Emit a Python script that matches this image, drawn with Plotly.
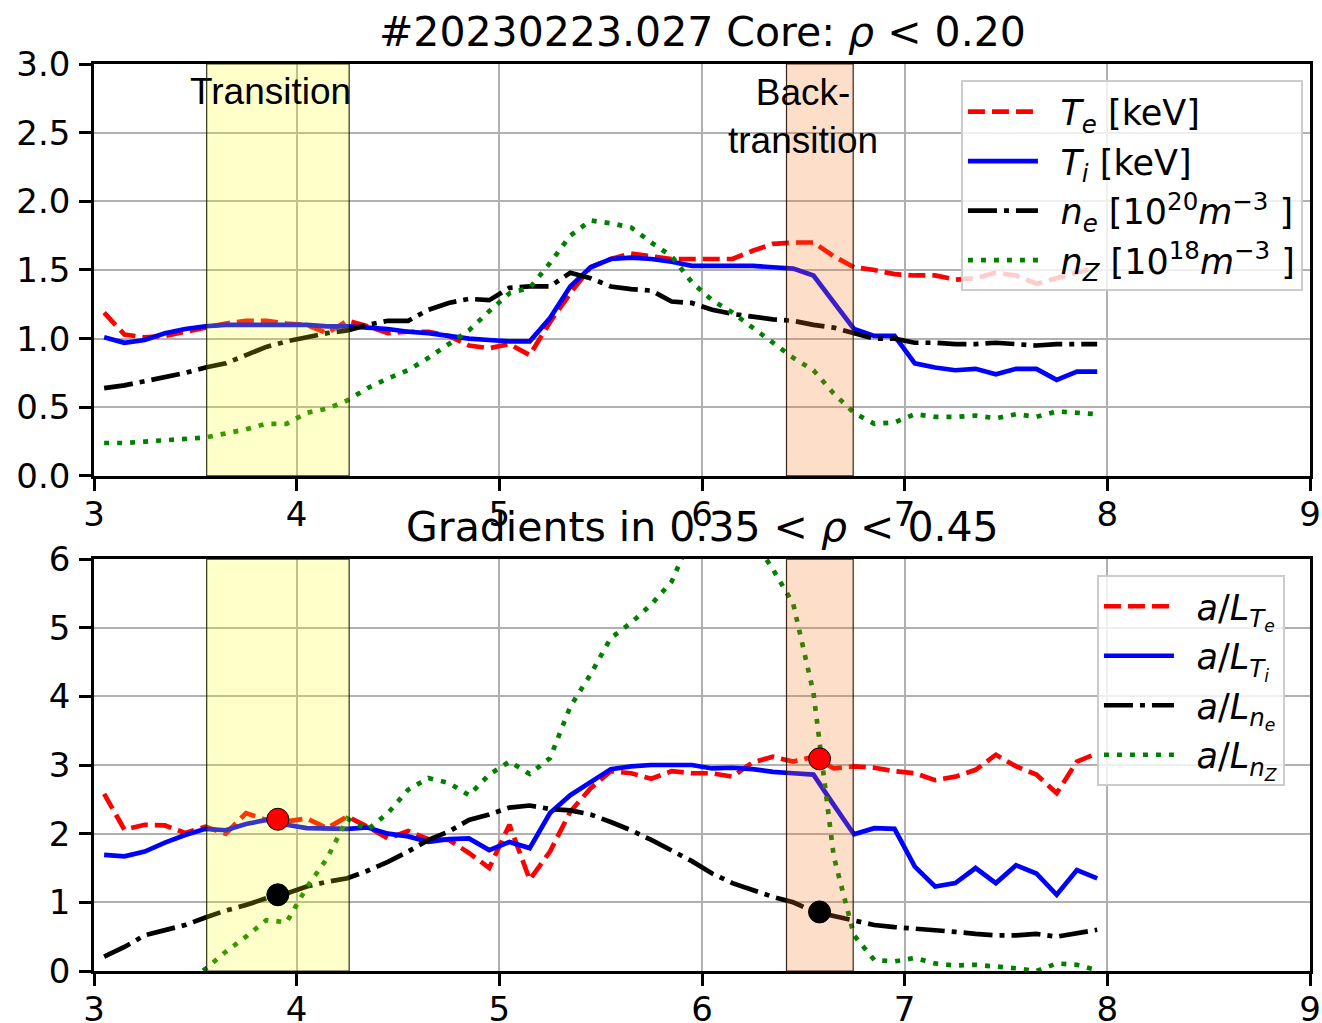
import plotly.graph_objects as go

# time axis [s]
t = [3.05, 3.15, 3.25, 3.35, 3.45, 3.55, 3.65, 3.75, 3.85, 3.95,
     4.05, 4.15, 4.25, 4.35, 4.45, 4.55, 4.65, 4.75, 4.85, 4.95,
     5.05, 5.15, 5.25, 5.35, 5.45, 5.55, 5.65, 5.75, 5.85, 5.95,
     6.05, 6.15, 6.25, 6.35, 6.45, 6.55, 6.65, 6.75, 6.85, 6.95,
     7.05, 7.15, 7.25, 7.35, 7.45, 7.55, 7.65, 7.75, 7.85, 7.95]

# core values (rho < 0.20)
te_core = [1.19, 1.03, 1.01, 1.02, 1.05, 1.08, 1.11, 1.13, 1.13, 1.11,
           1.10, 1.04, 1.13, 1.09, 1.04, 1.05, 1.05, 1.02, 0.95, 0.93,
           0.96, 0.88, 1.12, 1.33, 1.52, 1.58, 1.62, 1.60, 1.58, 1.58,
           1.58, 1.58, 1.64, 1.69, 1.70, 1.70, 1.60, 1.52, 1.50, 1.47,
           1.46, 1.46, 1.43, 1.44, 1.48, 1.46, 1.40, 1.44, 1.48, 1.52]
ti_core = [1.01, 0.97, 0.99, 1.04, 1.07, 1.09, 1.10, 1.10, 1.10, 1.10,
           1.10, 1.09, 1.09, 1.08, 1.07, 1.05, 1.04, 1.02, 1.00, 0.99,
           0.98, 0.98, 1.15, 1.38, 1.52, 1.58, 1.59, 1.58, 1.56, 1.53,
           1.53, 1.53, 1.53, 1.52, 1.51, 1.46, 1.26, 1.07, 1.02, 1.02,
           0.82, 0.79, 0.77, 0.78, 0.74, 0.78, 0.78, 0.70, 0.76, 0.76]
ne_core = [0.64, 0.66, 0.69, 0.72, 0.75, 0.79, 0.82, 0.88, 0.94, 0.98,
           1.01, 1.04, 1.06, 1.10, 1.13, 1.13, 1.21, 1.26, 1.29, 1.28,
           1.37, 1.38, 1.38, 1.48, 1.44, 1.38, 1.36, 1.35, 1.27, 1.26,
           1.21, 1.18, 1.16, 1.14, 1.13, 1.10, 1.08, 1.04, 1.00, 1.00,
           0.97, 0.97, 0.96, 0.96, 0.97, 0.96, 0.95, 0.96, 0.96, 0.96]
nz_core = [0.24, 0.24, 0.25, 0.26, 0.27, 0.28, 0.31, 0.34, 0.38, 0.38,
           0.46, 0.49, 0.55, 0.64, 0.71, 0.77, 0.86, 0.96, 1.06, 1.20,
           1.33, 1.37, 1.55, 1.75, 1.86, 1.84, 1.81, 1.70, 1.60, 1.41,
           1.28, 1.19, 1.08, 0.96, 0.86, 0.77, 0.60, 0.46, 0.38, 0.39,
           0.45, 0.43, 0.43, 0.44, 0.42, 0.45, 0.43, 0.47, 0.46, 0.45]

# normalised gradients (0.35 < rho < 0.45)
alte = [2.58, 2.06, 2.13, 2.12, 2.01, 2.10, 2.00, 2.30, 2.20, 2.18,
        2.22, 2.08, 2.25, 2.10, 1.93, 2.04, 1.92, 1.91, 1.72, 1.50,
        2.13, 1.33, 1.74, 2.32, 2.66, 2.91, 2.88, 2.80, 2.91, 2.88,
        2.88, 2.83, 3.04, 3.12, 3.05, 3.12, 2.95, 2.98, 2.96, 2.91,
        2.88, 2.78, 2.83, 2.93, 3.15, 2.98, 2.86, 2.59, 3.05, 3.17]
alti = [1.69, 1.67, 1.74, 1.87, 1.98, 2.07, 2.05, 2.14, 2.20, 2.13,
        2.08, 2.07, 2.07, 2.09, 2.00, 1.96, 1.88, 1.92, 1.93, 1.76,
        1.88, 1.79, 2.30, 2.56, 2.74, 2.94, 2.98, 3.00, 3.00, 3.00,
        2.95, 2.96, 2.94, 2.90, 2.88, 2.86, 2.42, 1.99, 2.08, 2.07,
        1.52, 1.23, 1.28, 1.50, 1.28, 1.54, 1.42, 1.11, 1.47, 1.35]
alne = [0.21, 0.35, 0.52, 0.60, 0.67, 0.78, 0.88, 0.96, 1.06, 1.13,
        1.23, 1.30, 1.35, 1.46, 1.59, 1.74, 1.91, 2.03, 2.20, 2.28,
        2.38, 2.41, 2.36, 2.34, 2.28, 2.17, 2.05, 1.91, 1.76, 1.60,
        1.42, 1.28, 1.18, 1.08, 1.00, 0.87, 0.80, 0.74, 0.67, 0.64,
        0.62, 0.59, 0.57, 0.54, 0.52, 0.52, 0.54, 0.50, 0.55, 0.60]
alnz = [-0.90, -0.70, -0.50, -0.35, -0.18, 0.03, 0.28, 0.50, 0.74, 0.71,
        1.22, 1.64, 2.22, 2.06, 2.30, 2.64, 2.81, 2.74, 2.56, 2.86,
        3.05, 2.87, 3.10, 3.85, 4.32, 4.85, 5.07, 5.34, 5.67, 6.35,
        6.80, 6.90, 6.30, 5.85, 5.35, 4.05, 1.67, 0.52, 0.16, 0.14,
        0.19, 0.11, 0.08, 0.09, 0.07, 0.04, 0.00, 0.11, 0.09, 0.01]

# transition windows [s]
trans_win = [3.556, 4.259]
back_win = [6.417, 6.746]

# gradient values at the window centres
mark_t = [3.907, 6.58]
mark_alte = [2.21, 3.09]
mark_alne = [1.11, 0.86]

# axis limits
t_range = [3, 9]
core_range = [0, 3]
grad_range = [0, 6]

RED, BLUE, BLACK, GREEN = "#ff0000", "#0000ff", "#000000", "#008000"
LW = 4.7
DASH = "17px,7px"
DASHDOT = "29px,7px,5px,7px"
DOT = "5px,8px"
GAP = "\u2002"

fig = go.Figure()

top = [
    (te_core, "<i>T</i><sub><i>e</i></sub> [keV]", RED, DASH),
    (ti_core, "<i>T</i><sub><i>i</i></sub> [keV]", BLUE, "solid"),
    (ne_core, "<i>n</i><sub><i>e</i></sub> [10<sup>20</sup><i>m</i><sup>−3</sup> ]", BLACK, DASHDOT),
    (nz_core, "<i>n</i><sub><i>Z</i></sub> [10<sup>18</sup><i>m</i><sup>−3</sup> ]", GREEN, DOT),
]
for i, (vals, name, col, dash) in enumerate(top):
    fig.add_trace(go.Scatter(
        x=t, y=vals, name=GAP + name, mode="lines",
        line=dict(color=col, width=LW, dash=dash),
        xaxis="x", yaxis="y", legend="legend", legendgroup=f"a{i}"))

bottom = [
    (alte, "<i>a</i>/<i>L</i><sub><i>T<sub>e</sub></i></sub>", RED, DASH),
    (alti, "<i>a</i>/<i>L</i><sub><i>T<sub>i</sub></i></sub>", BLUE, "solid"),
    (alne, "<i>a</i>/<i>L</i><sub><i>n<sub>e</sub></i></sub>", BLACK, DASHDOT),
    (alnz, "<i>a</i>/<i>L</i><sub><i>n<sub>Z</sub></i></sub>", GREEN, DOT),
]
for i, (vals, name, col, dash) in enumerate(bottom):
    fig.add_trace(go.Scatter(
        x=t, y=vals, name=GAP + name, mode="lines",
        line=dict(color=col, width=LW, dash=dash),
        xaxis="x2", yaxis="y2", legend="legend2", legendgroup=f"b{i}"))


def window(win, yr, xa, ya, fill, edge):
    """Translucent band over the curves marking a transition window."""
    return go.Scatter(
        x=[win[0], win[0], win[1], win[1], win[0]],
        y=[yr[0], yr[1], yr[1], yr[0], yr[0]],
        mode="lines", fill="toself", fillcolor=fill,
        line=dict(color=edge, width=1.2), showlegend=False,
        hoverinfo="skip", xaxis=xa, yaxis=ya)


YELLOW_FILL, YELLOW_EDGE = "rgba(255,255,0,0.21)", "rgba(30,30,0,0.9)"
ORANGE_FILL, ORANGE_EDGE = "rgba(248,120,30,0.24)", "rgba(40,15,0,0.9)"
fig.add_trace(window(trans_win, core_range, "x", "y", YELLOW_FILL, YELLOW_EDGE))
fig.add_trace(window(back_win, core_range, "x", "y", ORANGE_FILL, ORANGE_EDGE))
fig.add_trace(window(trans_win, grad_range, "x2", "y2", YELLOW_FILL, YELLOW_EDGE))
fig.add_trace(window(back_win, grad_range, "x2", "y2", ORANGE_FILL, ORANGE_EDGE))

fig.add_trace(go.Scatter(
    x=mark_t, y=mark_alte, mode="markers", showlegend=False,
    marker=dict(color=RED, size=22, line=dict(color="black", width=1)),
    xaxis="x2", yaxis="y2"))
fig.add_trace(go.Scatter(
    x=mark_t, y=mark_alne, mode="markers", showlegend=False,
    marker=dict(color=BLACK, size=22, line=dict(color="black", width=1)),
    xaxis="x2", yaxis="y2"))

TICKFONT = dict(family="DejaVu Sans", size=34, color="black")
FRAME = dict(showgrid=True, gridcolor="#b0b0b0", gridwidth=2,
             showline=True, linecolor="black", linewidth=2.5, mirror=True,
             ticks="outside", ticklen=12, tickwidth=2.5, tickcolor="black",
             tickfont=TICKFONT, zeroline=False, automargin=False)
XAX = dict(FRAME, range=t_range, dtick=1, tick0=3, domain=[0, 1],
           ticklabelstandoff=-6)
LEG = dict(xanchor="right", yanchor="top",
           bgcolor="rgba(255,255,255,0.8)", bordercolor="#cccccc", borderwidth=2,
           font=dict(family="DejaVu Sans", size=35, color="black"),
           itemwidth=70, tracegroupgap=1)

fig.update_layout(
    width=1322, height=1023,
    margin=dict(l=94, r=12, t=64, b=52, autoexpand=False),
    plot_bgcolor="white", paper_bgcolor="white",
    xaxis=dict(XAX, anchor="y"),
    xaxis2=dict(XAX, anchor="y2"),
    yaxis=dict(FRAME, range=core_range, dtick=0.5, tickformat=".1f",
               domain=[0.5458, 1], anchor="x", ticklabelstandoff=2),
    yaxis2=dict(FRAME, range=grad_range, dtick=1, domain=[0, 0.4542], anchor="x2",
                ticklabelstandoff=2),
    legend=dict(LEG, x=0.9942, y=0.982),
    legend2=dict(LEG, x=0.9794, y=0.4366),
    showlegend=True,
)

TITLEFONT = dict(family="DejaVu Sans", size=41, color="black")
fig.add_annotation(text="#20230223.027 Core: <i>ρ</i> &lt; 0.20",
                   xref="paper", yref="paper", x=0.5, y=1, yshift=6,
                   xanchor="center", yanchor="bottom", showarrow=False,
                   font=TITLEFONT)
fig.add_annotation(text="Gradients in 0.35 &lt; <i>ρ</i> &lt; 0.45",
                   xref="paper", yref="paper", x=0.5, y=0.4542, yshift=6,
                   xanchor="center", yanchor="bottom", showarrow=False,
                   font=TITLEFONT)
NOTEFONT = dict(family="Liberation Sans", size=37, color="black")
fig.add_annotation(text="Transition", xref="x", yref="y", x=3.87, y=2.80,
                   xanchor="center", yanchor="middle", showarrow=False,
                   font=NOTEFONT)
fig.add_annotation(text="Back-<br>transition", xref="x", yref="y", x=6.50, y=2.62,
                   xanchor="center", yanchor="middle", showarrow=False,
                   font=NOTEFONT)

fig.write_html("out.html")
